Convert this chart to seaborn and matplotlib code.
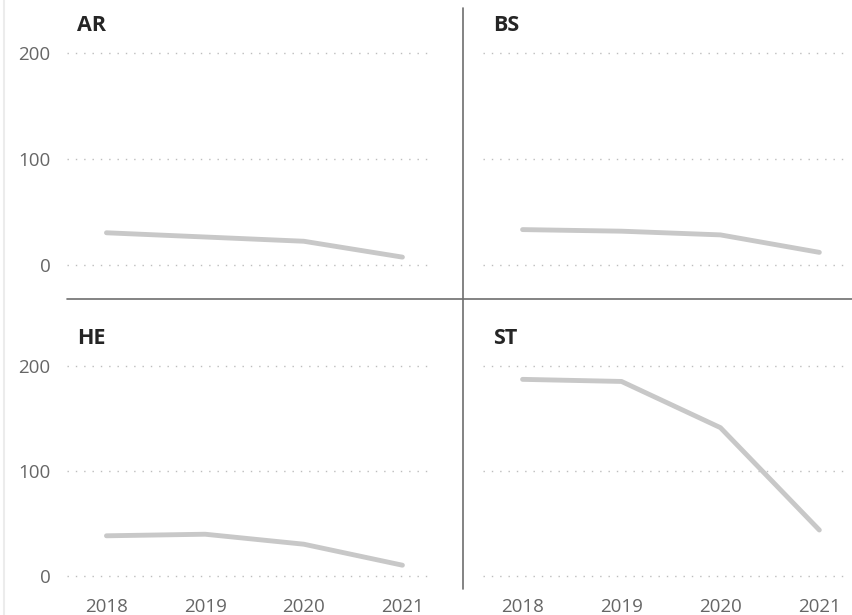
import matplotlib
matplotlib.use("Agg")
import matplotlib.pyplot as plt
import numpy as np
import pandas as pd
import seaborn as sns
from matplotlib.lines import Line2D

# data
years = [2018, 2019, 2020, 2021]
panels = ["AR", "BS", "HE", "ST"]
ar_vals = [30, 26, 22, 7]
bs_vals = [33, 31.5, 28, 11.5]
he_vals = [38, 39.5, 30, 10]
st_vals = [187, 185, 141, 43.5]

df = pd.DataFrame({
    "year": years * 4,
    "group": np.repeat(panels, len(years)),
    "value": ar_vals + bs_vals + he_vals + st_vals,
})

sns.set_style("white")
plt.rcParams["font.family"] = ["Open Sans", "DejaVu Sans"]

W, H = 852, 615
g = sns.FacetGrid(df, col="group", col_wrap=2, col_order=panels,
                  sharex=True, sharey=True, height=3, aspect=1.4)
g.map_dataframe(sns.lineplot, x="year", y="value", color="#c8c8c8",
                linewidth=3.5, solid_capstyle="round", solid_joinstyle="round")
g.figure.set_size_inches(W / 100, H / 100)
g.figure.set_dpi(100)

# axes boxes in pixels: (left, right, top, bottom)
boxes = {
    "AR": (67, 433, 40, 285),
    "BS": (483, 850, 40, 285),
    "HE": (67, 433, 353, 596),
    "ST": (483, 850, 353, 596),
}
zero_px = {"AR": 263, "BS": 263, "HE": 575.7, "ST": 575.7}
px_per_unit = 1.05

for ax, name in zip(g.axes.flat, panels):
    l, r, t, b = boxes[name]
    ax.set_position([l / W, 1 - b / H, (r - l) / W, (b - t) / H])
    z = zero_px[name]
    ax.set_ylim((z - b) / px_per_unit, (z - t) / px_per_unit)
    ax.set_xlim(2017.6, 2021.31)
    ax.set_yticks([0, 100, 200])
    ax.set_xticks(years)
    ax.grid(axis="y", color="#bdbdbd", linestyle=(0, (1, 5)), linewidth=1)
    ax.grid(axis="x", visible=False)
    for s in ax.spines.values():
        s.set_visible(False)
    ax.set_title("")
    ax.set_xlabel("")
    ax.set_ylabel("")
    ax.tick_params(axis="both", length=0, labelsize=13.5, labelcolor="#666666")
    ax.tick_params(axis="y", pad=12)
    ax.tick_params(axis="x", pad=1.5)
    if name in ("BS", "ST"):
        ax.tick_params(axis="y", labelleft=False)
    if name in ("AR", "BS"):
        ax.tick_params(axis="x", labelbottom=False)
    else:
        ax.tick_params(axis="x", labelbottom=True)
    ax.text(0.027, 1.06, name, transform=ax.transAxes, fontsize=15.5,
            fontweight="bold", color="#252525", ha="left", va="center")

fig = g.figure
# panel dividers
fig.add_artist(Line2D([462.7 / W, 462.7 / W], [1 - 8 / H, 1 - 589 / H],
                      color="#6e6e6e", linewidth=1.2))
fig.add_artist(Line2D([67 / W, 1.0], [1 - 299 / H, 1 - 299 / H],
                      color="#6e6e6e", linewidth=1.2))
fig.add_artist(Line2D([4 / W, 4 / W], [0, 1], color="#ececec", linewidth=1.5))

fig.savefig("out.png", dpi=100)
